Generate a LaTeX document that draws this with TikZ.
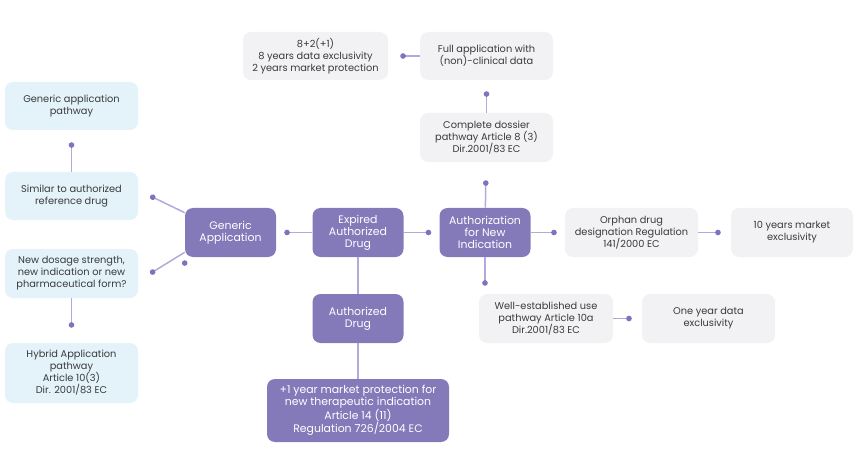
\documentclass[tikz,border=0pt]{standalone}
\usepackage{fontspec}
\setmainfont{Poppins}
\usepackage{tikz}
\usetikzlibrary{arrows.meta}

\definecolor{purp}{RGB}{132,122,186}
\definecolor{skyfill}{RGB}{227,243,249}
\definecolor{greyfill}{RGB}{242,242,244}
\definecolor{txt}{RGB}{58,58,62}
\definecolor{lnk}{RGB}{178,170,220}
\definecolor{dotc}{RGB}{126,116,190}

\begin{document}
\begin{tikzpicture}[x=1pt,y=-1pt,auto,node distance=86pt,
                    semithick]
\tikzstyle{main}=[rectangle,rounded corners=8pt,fill=purp,text=white,inner sep=2pt,
                  minimum width=91pt,minimum height=49pt,align=center,
                  font=\fontsize{10.9pt}{12}\selectfont]
\tikzstyle{sky}=[rectangle,rounded corners=8pt,fill=skyfill,text=txt,inner sep=2pt,
                 minimum width=133pt,minimum height=48pt,align=center,
                 font=\fontsize{9.8pt}{12}\selectfont]
\tikzstyle{grey}=[sky,fill=greyfill,minimum height=49pt]
\tikzstyle{link}=[-{Circle[length=5.5pt,color=dotc]},draw=lnk,line width=1.5pt,shorten >=8pt]
\tikzstyle{plain}=[draw=lnk,line width=1.5pt]
\useasboundingbox (0,0) rectangle (859,473);

        % middle row
        \node[main]                                        (exp)  at (358,232.5) {Expired\\Authorized\\Drug};
        \node[main, node distance=127.5pt]                 (gen)  [left of=exp]   {Generic\\Application};
        \node[main, node distance=127pt]                   (auth) [right of=exp]  {Authorization\\for New\\Indication};
        \node[main]                                        (adrug)[below of=exp]  {Authorized\\Drug};
        \node[main, minimum width=182pt, minimum height=63pt, node distance=92pt]
                                                           (plus) [below of=adrug] {+1 year market protection for\\new therapeutic indication\\Article 14 (11)\\Regulation 726/2004 EC};

        % right side
        \node[grey, node distance=146.5pt]                 (orph) [right of=auth] {Orphan drug\\designation Regulation\\141/2000 EC};
        \node[grey, minimum width=122pt, node distance=160.5pt]
                                                           (ten)  [right of=orph] {10 years market\\exclusivity};
        \node[grey, minimum width=134pt]                   (well) at (546,318.5)  {Well-established use\\pathway Article 10a\\Dir.2001/83 EC};
        \node[grey, node distance=162.5pt]                 (one)  [right of=well] {One year data\\exclusivity};
        \node[grey]                                        (comp) at (486.5,137.5) {Complete dossier\\pathway Article 8 (3)\\Dir.2001/83 EC};
        \node[grey, minimum height=48pt, node distance=81.5pt]
                                                           (full) [above of=comp] {Full application with\\(non)-clinical data};
        \node[grey, minimum width=145pt, minimum height=48pt, node distance=171pt]
                                                           (eight)[left of=full]  {8+2(+1)\\8 years data exclusivity\\2 years market protection};

        % left side
        \node[sky]                                         (sim)  at (71.5,196)   {Similar to authorized\\reference drug};
        \node[sky, node distance=90pt]                     (gap)  [above of=sim]  {Generic application\\pathway};
        \node[sky, minimum height=49pt, node distance=77.5pt]
                                                           (newd) [below of=sim]  {New dosage strength,\\new indication or new\\pharmaceutical form?};
        \node[sky, minimum height=60pt, node distance=99.5pt]
                                                           (hyb)  [below of=newd] {Hybrid Application\\pathway\\Article 10(3)\\Dir. 2001/83 EC};

        \path[link]
        (exp)   edge                    (gen)
        (exp)   edge                    (auth)
        (auth)  edge                    (orph)
        (orph)  edge [shorten >=10pt]   (ten)
        (well)  edge [shorten >=10pt]   (one)
        (auth)  edge [shorten >=18pt]   (comp)
        (comp)  edge [shorten >=11pt]   (full)
        (full)  edge [shorten >=12pt]   (eight)
        (sim)   edge [shorten >=12pt]   (gap)
        (newd)  edge [shorten >=15pt]   (hyb)
        (auth.south) edge               (auth.south |- well.north)
        ([yshift=-5pt]gen.north west) edge [shorten >=0pt] ([xshift=12pt]sim.east)
        ([yshift=5pt]gen.south west)  edge [shorten >=0pt] ([xshift=12pt]newd.east)
        ; %end path

        \path[plain]
        (exp)   edge (adrug)
        (adrug) edge (plus)
        ;
\end{tikzpicture}
\end{document}
